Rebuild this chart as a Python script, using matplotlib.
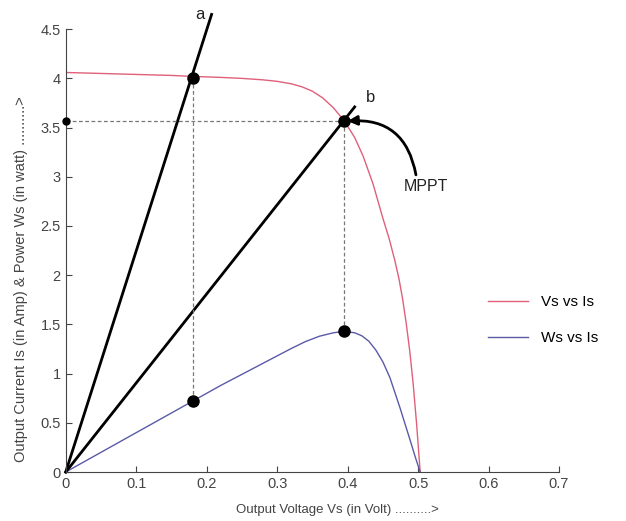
import matplotlib
matplotlib.use("Agg")
import matplotlib.pyplot as plt

plt.rcParams["font.family"] = ["Liberation Sans", "DejaVu Sans"]

# I-V curve (Vs vs Is)
iv_v = [0.0, 0.05, 0.10, 0.15, 0.18, 0.22, 0.25, 0.28, 0.30, 0.32, 0.335, 0.35, 0.365,
        0.38, 0.395, 0.41, 0.422, 0.436, 0.45, 0.459, 0.467, 0.473, 0.478, 0.483,
        0.488, 0.493, 0.498, 0.503]
iv_i = [4.06, 4.05, 4.04, 4.03, 4.02, 4.01, 4.00, 3.985, 3.97, 3.945, 3.915, 3.87, 3.80,
        3.70, 3.57, 3.40, 3.21, 2.93, 2.58, 2.37, 2.15, 1.96, 1.76, 1.52,
        1.24, 0.90, 0.48, 0.0]

# P-V curve (Ws vs Is)
pv_v = [0.0, 0.05, 0.10, 0.15, 0.18, 0.22, 0.26, 0.30, 0.32, 0.34, 0.36, 0.38, 0.395,
        0.41, 0.42, 0.43, 0.44, 0.45, 0.46, 0.474, 0.488, 0.497, 0.503]
pv_p = [0.0, 0.20, 0.40, 0.60, 0.72, 0.88, 1.03, 1.18, 1.255, 1.325, 1.38, 1.415, 1.43,
        1.415, 1.385, 1.33, 1.24, 1.12, 0.96, 0.66, 0.34, 0.13, 0.0]

# operating points
pt_a = (0.18, 4.0)
pt_a_pow = (0.18, 0.72)
pt_mpp = (0.395, 3.57)
pt_mpp_pow = (0.395, 1.43)
line_a_end = (0.207, 4.65)
line_b_end = (0.41, 3.71)

fig = plt.figure(figsize=(6.26, 5.21), dpi=100)
ax = fig.add_axes([0.105, 0.094, 0.788, 0.85])

ax.plot(iv_v, iv_i, color="#e0607a", lw=1.0, label="Vs vs Is")
ax.plot(pv_v, pv_p, color="#5a5aa8", lw=1.0, label="Ws vs Is")

# load lines a and b through origin
ax.plot([0, line_a_end[0]], [0, line_a_end[1]], color="black", lw=2, clip_on=False)
ax.plot([0, line_b_end[0]], [0, line_b_end[1]], color="black", lw=2, clip_on=False)

dash = dict(color="#777777", lw=0.9, ls=(0, (3, 2)))
ax.plot([0, pt_mpp[0]], [pt_mpp[1], pt_mpp[1]], **dash)
ax.plot([pt_a[0], pt_a[0]], [pt_a[1], pt_a_pow[1]], **dash)
ax.plot([pt_mpp[0], pt_mpp[0]], [pt_mpp[1], pt_mpp_pow[1]], **dash)

for p in (pt_a, pt_a_pow, pt_mpp, pt_mpp_pow):
    ax.plot(*p, "o", color="black", ms=8, zorder=5)
ax.plot(0, pt_mpp[1], "o", color="black", ms=5, clip_on=False, zorder=5)

ax.text(0.19, 4.65, "a", fontsize=12, ha="center", va="center", color="#222222")
ax.text(0.432, 3.81, "b", fontsize=12, ha="center", va="center", color="#222222")
ax.text(0.479, 2.9, "MPPT", fontsize=11.5, ha="left", va="center", color="#222222")
ax.annotate("", xy=(0.398, 3.565), xytext=(0.497, 3.02),
            arrowprops=dict(arrowstyle="-|>", color="black", lw=2,
                            connectionstyle="arc3,rad=0.45",
                            shrinkA=0, shrinkB=1, mutation_scale=14))

ax.set_xlim(0, 0.7)
ax.set_ylim(0, 4.5)
ax.set_xticks([0, 0.1, 0.2, 0.3, 0.4, 0.5, 0.6, 0.7])
ax.set_xticklabels(["0", "0.1", "0.2", "0.3", "0.4", "0.5", "0.6", "0.7"])
ax.set_yticks([0, 0.5, 1, 1.5, 2, 2.5, 3, 3.5, 4, 4.5])
ax.set_yticklabels(["0", "0.5", "1", "1.5", "2", "2.5", "3", "3.5", "4", "4.5"])
ax.tick_params(direction="in", labelsize=10.5, colors="#444444", length=4)
for s in ("top", "right"):
    ax.spines[s].set_visible(False)
for s in ("left", "bottom"):
    ax.spines[s].set_color("#444444")

ax.set_xlabel("Output Voltage Vs (in Volt) ..........>", fontsize=9.5, color="#444444")
ax.xaxis.set_label_coords(0.55, -0.072)
ax.set_ylabel("Output Current Is (in Amp) & Power Ws (in watt) ..........>", fontsize=10.5,
              color="#444444")
ax.yaxis.set_label_coords(-0.076, 0.436)

ax.legend(loc="center left", bbox_to_anchor=(0.828, 0.343), frameon=False,
          fontsize=11, handlelength=2.6, labelspacing=1.45, handletextpad=0.9)

fig.savefig("out.png", dpi=100)
